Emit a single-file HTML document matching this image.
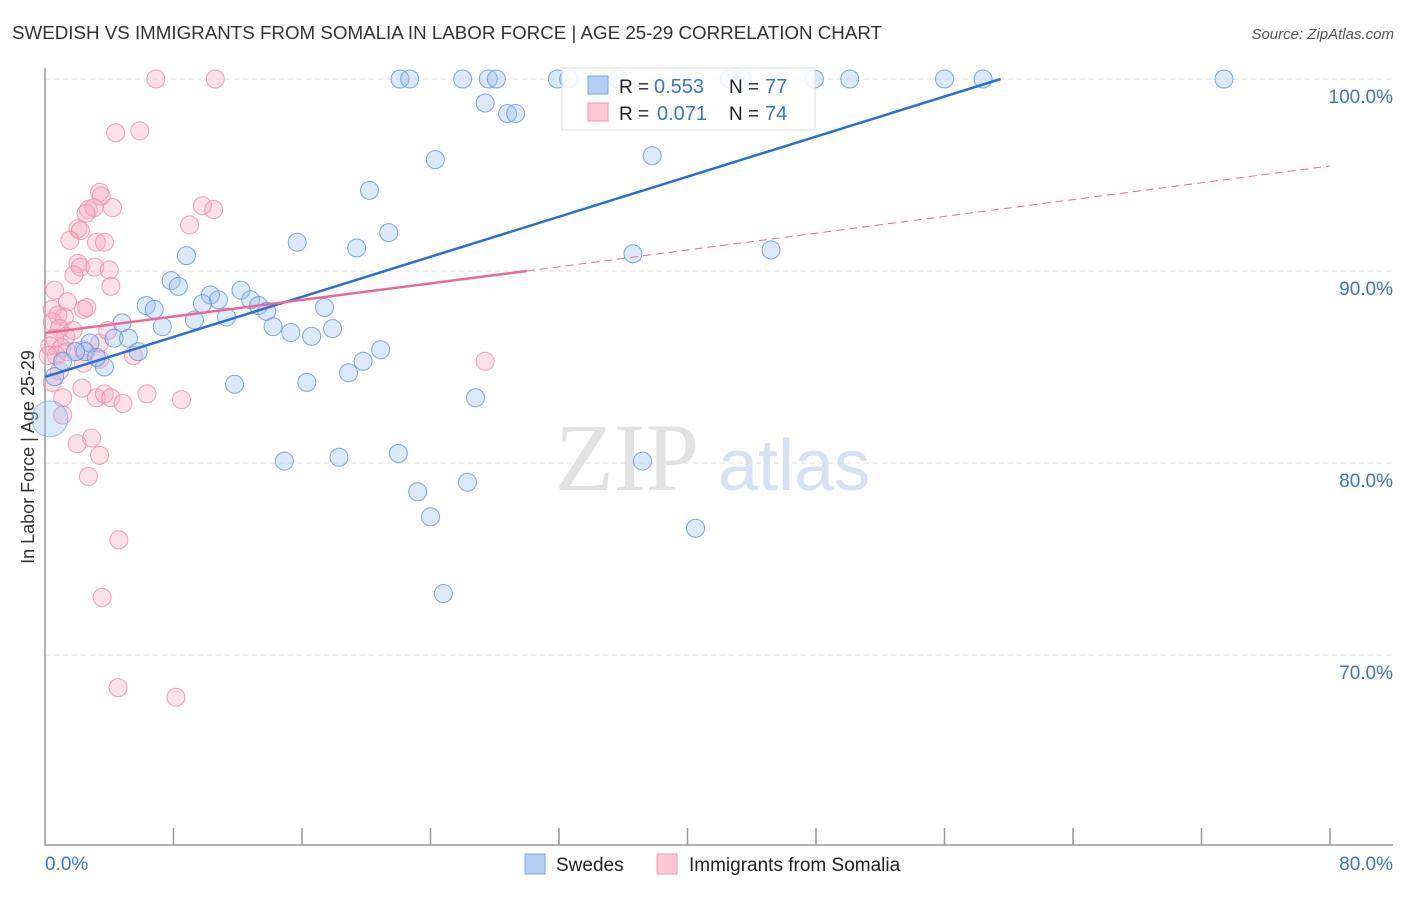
<!DOCTYPE html>
<html><head><meta charset="utf-8"><style>
body{margin:0;background:#fff;font-family:"Liberation Sans",sans-serif}
</style></head><body>
<svg id="chart" width="1406" height="892" xmlns="http://www.w3.org/2000/svg" font-family="Liberation Sans, sans-serif">
<text x="12" y="39" font-size="18" fill="#333" textLength="870" lengthAdjust="spacingAndGlyphs">SWEDISH VS IMMIGRANTS FROM SOMALIA IN LABOR FORCE | AGE 25-29 CORRELATION CHART</text>
<text x="1394" y="39" font-size="15" fill="#555" text-anchor="end" font-style="italic">Source: ZipAtlas.com</text>
<text transform="translate(34,457) rotate(-90)" font-size="18" fill="#333" text-anchor="middle">In Labor Force | Age 25-29</text>
<text x="555" y="490" font-size="96" fill="#e2e2e2" font-family="Liberation Serif, serif">ZIP</text>
<text x="718" y="490" font-size="72" fill="#d6e2f3">atlas</text>
<g id="grid"></g><g id="axes"></g><g id="pink"></g><g id="blue"></g><g id="lines"></g>
<g>
<rect x="562" y="68" width="253" height="62" fill="#fff" fill-opacity="0.85" stroke="#ddd"/>
<rect x="588" y="76" width="20" height="18" fill="#b3cff5" stroke="#7aa6e6"/>
<rect x="588" y="103" width="20" height="18" fill="#fcc8d6" stroke="#f09ab4"/>
<text x="619" y="93" font-size="19" fill="#222">R =</text>
<text x="654" y="93" font-size="20" fill="#3a74d0">0.553</text>
<text x="729" y="93" font-size="19" fill="#222">N =</text>
<text x="765" y="93" font-size="20" fill="#3a74d0">77</text>
<text x="619" y="120" font-size="19" fill="#222">R =</text>
<text x="657" y="120" font-size="20" fill="#3a74d0">0.071</text>
<text x="729" y="120" font-size="19" fill="#222">N =</text>
<text x="765" y="120" font-size="20" fill="#3a74d0">74</text>
</g>
<g>
<rect x="525" y="854" width="20" height="20" fill="#b3cff5" stroke="#7aa6e6"/>
<text x="556" y="871" font-size="19" fill="#222">Swedes</text>
<rect x="657" y="854" width="20" height="20" fill="#fcc8d6" stroke="#f09ab4"/>
<text x="689" y="871" font-size="19" fill="#222">Immigrants from Somalia</text>
</g>
</svg>
<script>
const blueX=[22.1,22.7,26.0,27.6,28.1,31.9,32.6,34.4,35.7,42.6,43.4,47.9,50.1,56.0,58.4,73.4,27.4,28.8,29.3,24.3,37.8,20.2,21.4,19.4,15.7,36.6,45.2,8.8,7.85,8.3,6.3,6.8,10.3,10.8,9.8,12.2,12.8,13.3,13.8,11.3,9.3,7.3,4.8,14.2,15.3,16.6,17.4,17.9,20.9,19.8,18.9,16.3,11.8,26.8,4.3,5.2,5.8,3.7,2.8,2.5,3.2,1.9,1.1,0.6,14.9,18.3,22.0,23.2,26.3,24.0,37.2,40.5,24.8];
const blueY=[100,100,100,100,100,100,100,100,100,100,100,100,100,100,100,100,98.75,98.2,98.2,95.8,96.0,94.2,92.0,91.2,91.5,90.9,91.1,90.8,89.5,89.2,88.2,88.0,88.75,88.5,88.3,89.0,88.5,88.2,87.9,87.6,87.45,87.1,87.3,87.1,86.8,86.6,88.1,87.0,85.9,85.3,84.7,84.2,84.1,83.4,86.5,86.5,85.8,85.0,86.25,85.8,85.5,85.8,85.3,84.5,80.1,80.3,80.5,78.5,79.0,77.2,80.1,76.6,73.2];
const bigX=[0.3], bigY=[82.3];
const pinkX=[6.9,10.6,4.4,5.9,3.4,3.5,2.7,3.05,4.2,2.55,2.05,2.2,1.55,3.2,3.7,9.8,10.5,9.0,2.05,2.2,1.8,3.1,4.0,4.1,1.4,0.45,1.2,0.8,2.4,2.6,0.45,0.9,1.75,1.3,0.6,0.3,1.05,1.4,0.7,2.4,3.4,3.9,5.5,3.4,2.4,0.9,0.45,1.1,3.2,2.3,3.7,4.1,4.85,6.35,8.5,27.4,1.1,2.9,2.0,3.4,2.7,4.6,3.55,4.55,8.15,0.2,0.6];
const pinkY=[100,100,97.2,97.3,94.1,93.9,93.2,93.3,93.3,93.0,92.2,92.1,91.6,91.5,91.5,93.4,93.2,92.4,90.4,90.2,89.8,90.2,90.05,89.2,88.4,88.0,87.6,87.7,88.0,88.1,87.35,87.0,86.9,86.6,86.5,86.1,86.0,85.8,85.6,85.9,86.25,86.9,85.6,85.4,85.2,84.8,84.2,83.4,83.4,83.9,83.6,83.4,83.1,83.6,83.3,85.3,82.5,81.3,81.0,80.4,79.3,76.0,73.0,68.3,67.8,85.6,89.0];
const yTicks=[100,90,80,70];
const yTickLabels=["100.0%","90.0%","80.0%","70.0%"];
const xTicks=[0,8,16,24,32,40,48,56,64,72,80];
const blueLine=[84.48,0,59.5,100];
const pinkLine=[86.77,30,90.0,80,95.47];
const NS="http://www.w3.org/2000/svg";
const X=v=>45+v*16.0625, Y=v=>79+(100-v)*19.2;
function mk(p,t,a){const e=document.createElementNS(NS,t);for(const k in a)e.setAttribute(k,a[k]);document.getElementById(p).appendChild(e);return e;}
yTicks.forEach((t,i)=>{
 let l=mk('grid','line',{x1:45,x2:1393,y1:Y(t),y2:Y(t),stroke:'#ddd','stroke-dasharray':'5,4'});
 
 
 let tx=mk('grid','text',{x:1393,y:Y(t)+24,'font-size':19,fill:'#3a74d0','text-anchor':'end'});
 tx.textContent=yTickLabels[i];
 
 
});
let ax=mk('axes','path',{d:'M45 68V845H1393',stroke:'#999',fill:'none','stroke-width':1.5});


xTicks.forEach(t=>{if(t===0)return;let l=mk('axes','line',{x1:X(t),x2:X(t),y1:828,y2:845,stroke:'#999','stroke-width':1.5});
 
 });
let x0=mk('axes','text',{x:45,y:870,'font-size':19,fill:'#3a74d0'});x0.textContent='0.0%';


let x1=mk('axes','text',{x:1393,y:870,'font-size':19,fill:'#3a74d0','text-anchor':'end'});x1.textContent='80.0%';


pinkX.forEach((v,i)=>{let c=mk('pink','circle',{cx:X(v),cy:Y(pinkY[i]),r:9,fill:'#f7a9c0','fill-opacity':0.35,stroke:'#ec8aa8','stroke-opacity':0.8});
 
 });
blueX.forEach((v,i)=>{let c=mk('blue','circle',{cx:X(v),cy:Y(blueY[i]),r:9,fill:'#9cc0f0','fill-opacity':0.35,stroke:'#5b93dd','stroke-opacity':0.8});
 
 });
bigX.forEach((v,i)=>{let c=mk('blue','circle',{cx:X(v),cy:Y(bigY[i]),r:18,fill:'#9cc0f0','fill-opacity':0.35,stroke:'#5b93dd','stroke-opacity':0.6});
 
 });
let bl=mk('lines','line',{x1:X(blueLine[1]),y1:Y(blueLine[0]),x2:X(blueLine[2]),y2:Y(blueLine[3]),stroke:'#2a6fd6','stroke-width':2.5});


let pl=mk('lines','line',{x1:X(0),y1:Y(pinkLine[0]),x2:X(pinkLine[1]),y2:Y(pinkLine[2]),stroke:'#e8699a','stroke-width':2.5});


let pd=mk('lines','line',{x1:X(pinkLine[1]),y1:Y(pinkLine[2]),x2:X(pinkLine[3]),y2:Y(pinkLine[4]),stroke:'#e8699a','stroke-width':1,'stroke-dasharray':'8,5'});


</script>
</body></html>
